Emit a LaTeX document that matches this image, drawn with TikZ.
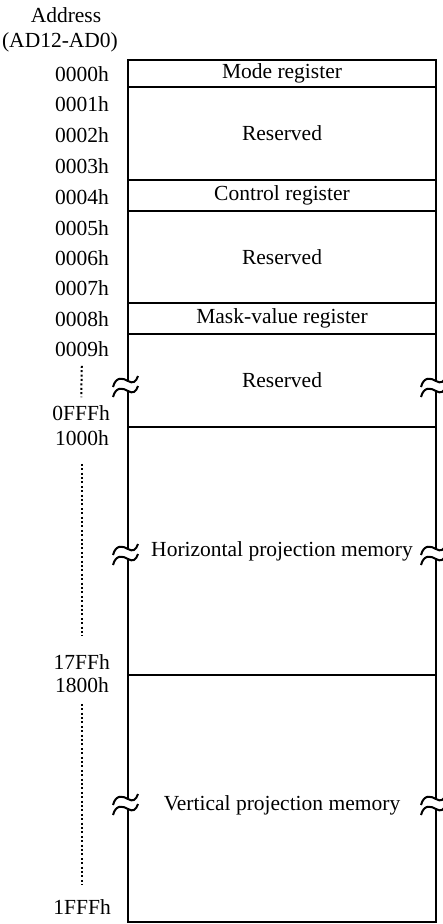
\documentclass[tikz,border=0pt]{standalone}
\usepackage{fontspec}
\setmainfont{Liberation Serif}
\usepackage{tikz}

\tikzset{
  memrow/.style={draw, line width=2.2pt, minimum width=308pt, inner sep=0pt, outer sep=0pt},
  addr/.style={anchor=east, inner sep=0pt},
  dotline/.style={line width=2pt, dash pattern=on 2pt off 2.4pt},
  breakmark/.pic={
    \fill[white] (-15,2) .. controls (-12,-9) and (-5,-7) .. (0,-4) .. controls (5,-1) and (8,-3) .. (10,-9)
      -- (10,1) .. controls (8,7) and (5,9) .. (0,6) .. controls (-5,3) and (-12,1) .. (-15,12) -- cycle;
    \draw[line width=2pt] (-15,2) .. controls (-12,-9) and (-5,-7) .. (0,-4) .. controls (5,-1) and (8,-3) .. (10,-9);
    \draw[line width=2pt] (-15,12) .. controls (-12,1) and (-5,3) .. (0,6) .. controls (5,9) and (8,7) .. (10,1);
  }
}

\begin{document}
\begin{tikzpicture}[x=1pt, y=-1pt, font=\fontsize{21.5pt}{26pt}\selectfont]

  \useasboundingbox (0,0) rectangle (442,924);

  % Header
  \node (hdr) at (66,15) {Address};
  \node (bus) at (60,42) {(AD12-AD0)};

  % Memory rows
  \node[memrow, minimum height=27pt] (mode) at (282,73.5) {Mode register};
  \node[memrow, minimum height=93pt] (res1) at (282,133.5) {Reserved};
  \node[memrow, minimum height=31pt] (ctrl) at (282,195.5) {Control register};
  \node[memrow, minimum height=92pt] (res2) at (282,257) {Reserved};
  \node[memrow, minimum height=31pt] (mask) at (282,318.5) {Mask-value register};
  \node[memrow, minimum height=93pt] (res3) at (282,380.5) {Reserved};
  \node[memrow, minimum height=248pt] (hmem) at (282,551) {Horizontal projection memory};
  \node[memrow, minimum height=247pt] (vmem) at (282,798.5) {};
  \node (vtext) at ([yshift=-7pt]vmem.center) {Vertical projection memory};

  % Addresses
  \node[addr] (a0000) at (109,74) {0000h};
  \node[addr] (a0001) at (109,104) {0001h};
  \node[addr] (a0002) at (109,135) {0002h};
  \node[addr] (a0003) at (109,166) {0003h};
  \node[addr] (a0004) at (109,197) {0004h};
  \node[addr] (a0005) at (109,228) {0005h};
  \node[addr] (a0006) at (109,258) {0006h};
  \node[addr] (a0007) at (109,288) {0007h};
  \node[addr] (a0008) at (109,319) {0008h};
  \node[addr] (a0009) at (109,349) {0009h};
  \node[addr] (a0FFF) at (110,413) {0FFFh};
  \node[addr] (a1000) at (109,438) {1000h};
  \node[addr] (a17FF) at (110,662) {17FFh};
  \node[addr] (a1800) at (109,685) {1800h};
  \node[addr] (a1FFF) at (111,907) {1FFFh};

  % Dotted ranges
  \draw[dotline, shorten <=9pt, shorten >=8pt] (a0009.south) -- (a0FFF.south |- a0FFF.north);
  \draw[dotline, shorten <=18pt, shorten >=18pt] (a1000.south) -- (a1000.south |- a17FF.north);
  \draw[dotline, shorten <=11pt, shorten >=14pt] (a1800.south) -- (a1800.south |- a1FFF.north);

  % Break marks
  \pic at (res3.west |- 0,385) {breakmark};
  \pic at (res3.east |- 0,385) {breakmark};
  \pic at (hmem.west |- 0,553) {breakmark};
  \pic at (hmem.east |- 0,553) {breakmark};
  \pic at (vmem.west |- 0,803) {breakmark};
  \pic at (vmem.east |- 0,803) {breakmark};

\end{tikzpicture}
\end{document}
